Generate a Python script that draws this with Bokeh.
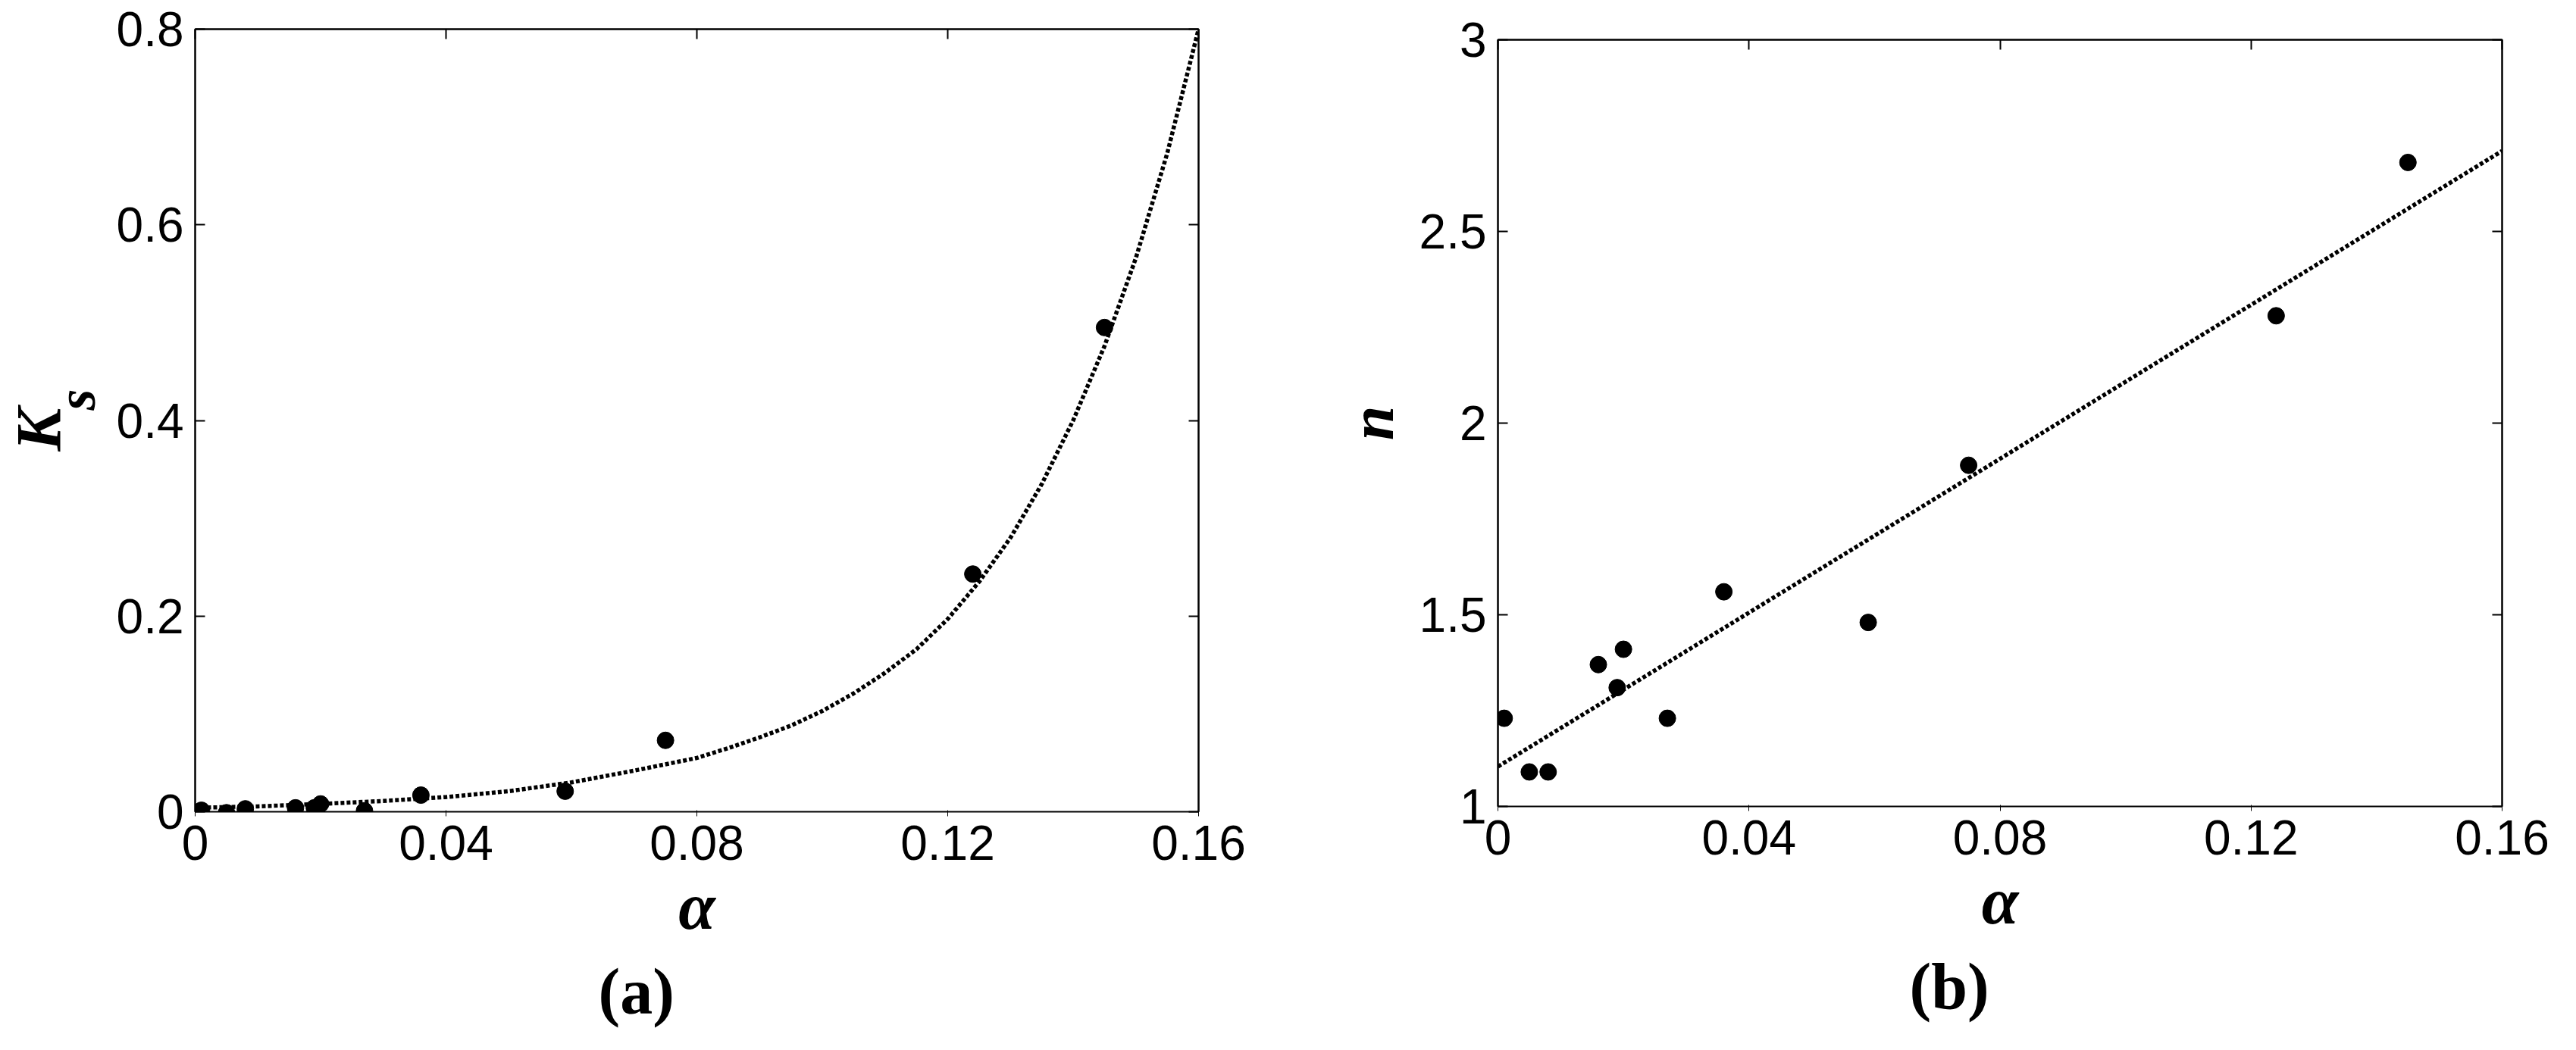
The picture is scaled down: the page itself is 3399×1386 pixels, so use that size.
from bokeh.plotting import figure
from bokeh.layouts import row, column
from bokeh.models import (LinearAxis, FixedTicker, NumeralTickFormatter, Title, Range1d, Spacer)
from bokeh.embed import file_html
from bokeh.resources import INLINE

# ---------------- data ----------------
alpha = [0.001, 0.005, 0.008, 0.016, 0.019, 0.020, 0.027, 0.036, 0.059, 0.075, 0.124, 0.145]
ks = [0.0015, -0.001, 0.003, 0.004, 0.004, 0.008, 0.001, 0.017, 0.021, 0.073, 0.243, 0.495]
n_vals = [1.23, 1.09, 1.09, 1.37, 1.31, 1.41, 1.23, 1.56, 1.48, 1.89, 2.28, 2.68]

# fitted curve in (a)
ks_fit_alpha = [0.0, 0.01, 0.02, 0.03, 0.04, 0.05, 0.06, 0.07, 0.08, 0.085, 0.09, 0.095,
                0.10, 0.105, 0.11, 0.115, 0.12, 0.125, 0.13, 0.135, 0.14, 0.145, 0.15,
                0.155, 0.16]
ks_fit = [0.004, 0.0055, 0.008, 0.011, 0.015, 0.021, 0.030, 0.042, 0.055, 0.065, 0.076,
          0.088, 0.103, 0.121, 0.142, 0.166, 0.197, 0.235, 0.280, 0.335, 0.400, 0.476,
          0.566, 0.673, 0.800]

# fitted line in (b)
n_fit_alpha = [0.0, 0.16]
n_fit = [1.104, 2.71]

x_ticks = [0, 0.04, 0.08, 0.12, 0.16]
ks_ticks = [0, 0.2, 0.4, 0.6, 0.8]
n_ticks = [1, 1.5, 2, 2.5, 3]

TICK_FONT = "Liberation Sans"
SERIF = "Liberation Serif"


def make_panel(fw, fh, left, right, top, bottom, xr, yr, yticks):
    p = figure(frame_width=fw, frame_height=fh, output_backend="svg", toolbar_location=None,
               x_range=Range1d(*xr), y_range=Range1d(*yr),
               min_border_left=left, min_border_right=right,
               min_border_top=top, min_border_bottom=bottom,
               background_fill_color="white", border_fill_color="white")
    p.xgrid.visible = False
    p.ygrid.visible = False
    p.outline_line_color = "black"
    p.outline_line_width = 2
    for ax in (p.xaxis[0], p.yaxis[0]):
        ax.major_label_text_font = TICK_FONT
        ax.major_label_text_font_size = "64px"
        ax.major_label_text_color = "black"
        ax.formatter = NumeralTickFormatter(format="0.[00]")
        ax.axis_label_text_font = SERIF
        ax.axis_label_text_font_style = "bold italic"
        ax.axis_label_text_color = "black"
    p.xaxis[0].ticker = FixedTicker(ticks=x_ticks)
    p.yaxis[0].ticker = FixedTicker(ticks=yticks)
    p.xaxis[0].major_label_standoff = 12
    p.yaxis[0].major_label_standoff = 15
    p.xaxis[0].axis_label = "α"
    p.xaxis[0].axis_label_text_font_size = "88px"
    p.xaxis[0].axis_label_standoff = 10
    top_ax = LinearAxis(ticker=FixedTicker(ticks=x_ticks), major_label_text_color=None,
                        major_label_standoff=0)
    right_ax = LinearAxis(ticker=FixedTicker(ticks=yticks), major_label_text_color=None,
                          major_label_standoff=0)
    p.add_layout(top_ax, "above")
    p.add_layout(right_ax, "right")
    for ax in (p.xaxis[0], p.yaxis[0], top_ax, right_ax):
        ax.axis_line_color = "black"
        ax.axis_line_width = 2
        ax.major_tick_in = 13
        ax.major_tick_out = 0
        ax.major_tick_line_width = 2
        ax.major_tick_line_color = "black"
        ax.minor_tick_line_color = None
    return p


def side_title(p, text, side, size, style, offset, standoff, valign):
    t = Title(text=text, text_font=SERIF, text_font_size=size, text_font_style=style,
              text_color="black", align="left", offset=offset, standoff=standoff,
              vertical_align=valign)
    p.add_layout(t, side)
    return t


# ---------------- panel (a) ----------------
# frame on page: x 265..1589, y 46..1079
A_L, A_R, A_T, A_B = 265, 1589, 46, 1079
pa = make_panel(A_R - A_L, A_B - A_T, A_L - 8, 1700 - A_R, A_T - 8, 8 + 1370 - A_B,
                (0, 0.16), (0, 0.8), ks_ticks)
pa.scatter(alpha, ks, size=22, color="black", marker="circle")
pa.line(ks_fit_alpha, ks_fit, line_color="black", line_width=5.5, line_dash="5 3")
side_title(pa, "s", "left", "72px", "bold italic", 530, 20, "bottom")
side_title(pa, "K", "left", "85px", "bold italic", 476, -98, "bottom")
side_title(pa, "(a)", "below", "86px", "bold", 532, 26, "top")

# ---------------- panel (b) ----------------
# frame on page: x 1984..3309, y 60..1072
B_L, B_R, B_T, B_B = 1984, 3309, 60, 1072
B_X0 = 1700
B_SHIFT = 14  # spacer above panel (b)
pb = make_panel(B_R - B_L, B_B - B_T, B_L - B_X0, 3390 - B_R, B_T - 8 - B_SHIFT,
                8 + 1370 - B_B, (0, 0.16), (1, 3), n_ticks)
pb.yaxis[0].axis_label = "n"
pb.yaxis[0].axis_label_text_font_size = "82px"
pb.yaxis[0].axis_label_standoff = 14
pb.scatter(alpha, n_vals, size=22, color="black", marker="circle")
pb.line(n_fit_alpha, n_fit, line_color="black", line_width=5.5, line_dash="5 3")
side_title(pb, "(b)", "below", "86px", "bold", 543, 26, "top")

layout = row(pa, column(Spacer(width=10, height=B_SHIFT), pb, spacing=0), spacing=0)
open("out.html", "w").write(file_html(layout, INLINE))
